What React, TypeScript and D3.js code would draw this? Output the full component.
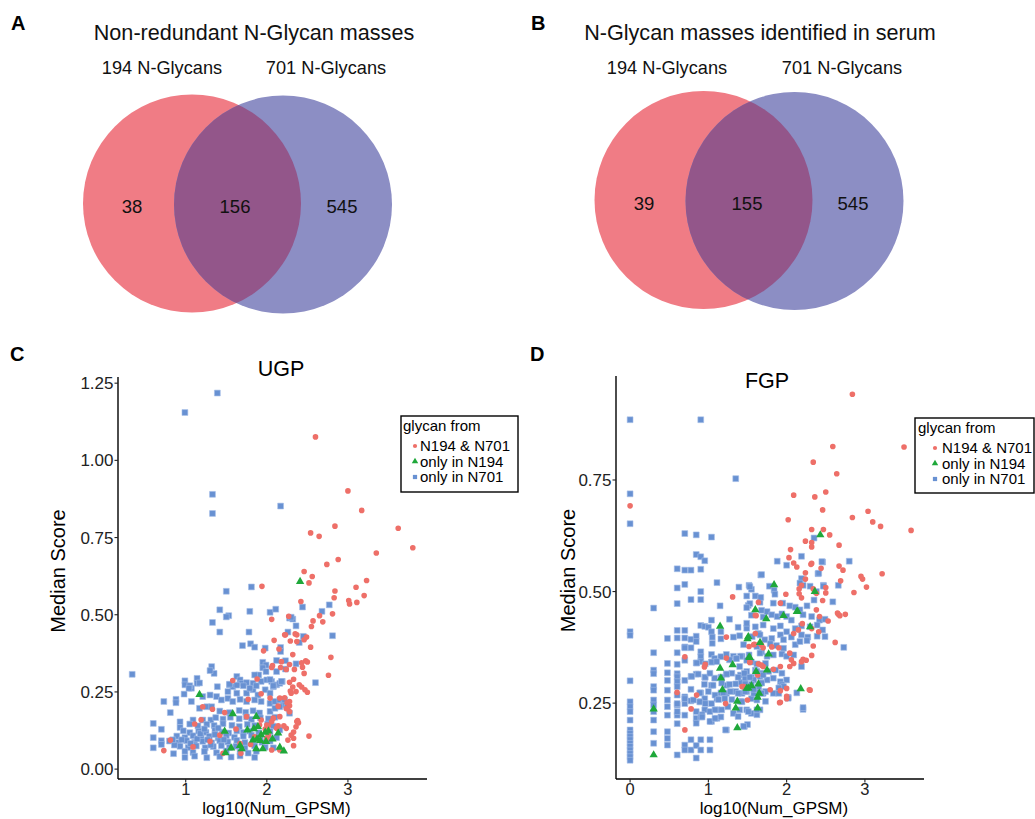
import React from 'react';
import * as d3 from 'd3';

type Pt = [number, number];

// Venn counts: [only left, both, only right]
const vennACounts = [38, 156, 545];
const vennBCounts = [39, 155, 545];
const vennSetLabels = ['194 N-Glycans', '701 N-Glycans'];
const legendLabels = ['N194 & N701', 'only in N194', 'only in N701'];
const ugpYTicks = [0, 0.25, 0.5, 0.75, 1.0, 1.25];
const ugpXTicks = [1, 2, 3];
const fgpYTicks = [0.25, 0.5, 0.75];
const fgpXTicks = [0, 1, 2, 3];

// UGP: glycans found in both N194 and N701
const ugpBoth: Pt[] = [
  [2.6, 1.076], [3.0, 0.901], [3.17, 0.838], [2.84, 0.787], [2.54, 0.765], [2.645, 0.754], [3.62, 0.78],
  [3.35, 0.7], [3.8, 0.717], [2.88, 0.679], [2.74, 0.663], [2.46, 0.64], [2.56, 0.624], [2.52, 0.603],
  [1.94, 0.592], [3.23, 0.611], [2.84, 0.577], [3.1, 0.589], [2.83, 0.555], [3.2, 0.562], [3.01, 0.546],
  [3.02, 0.535], [3.11, 0.54], [2.42, 0.543], [2.81, 0.503], [2.65, 0.497], [2.69, 0.477], [2.57, 0.48],
  [2.55, 0.462], [2.06, 0.485], [2.27, 0.495], [2.23, 0.435], [2.37, 0.435], [2.09, 0.417], [2.29, 0.415],
  [2.49, 0.428], [2.46, 0.419], [2.54, 0.395], [2.15, 0.389], [1.96, 0.383], [2.32, 0.371], [2.48, 0.351],
  [2.5, 0.347], [2.79, 0.362], [2.28, 0.339], [2.06, 0.329], [2.17, 0.329], [2.44, 0.33], [2.76, 0.304],
  [2.5, 0.249], [2.52, 0.107], [2.33, 0.076], [2.38, 0.157], [2.36, 0.137], [2.24, 0.323], [2.46, 0.31],
  [2.33, 0.291], [2.4, 0.273], [2.47, 0.257], [2.3, 0.246], [2.36, 0.251], [2.25, 0.215], [2.28, 0.205],
  [2.28, 0.186], [2.16, 0.17], [2.14, 0.14], [2.24, 0.132], [2.37, 0.154], [2.3, 0.11], [2.26, 0.094],
  [2.16, 0.062], [2.06, 0.062], [1.58, 0.287], [1.77, 0.226], [1.48, 0.183], [1.21, 0.202], [1.19, 0.16],
  [1.75, 0.17], [1.93, 0.159], [2.0, 0.143], [2.06, 0.154], [2.12, 0.132], [2.02, 0.11], [1.85, 0.105],
  [1.67, 0.083], [0.81, 0.094], [0.73, 0.06], [1.09, 0.072], [1.46, 0.051], [1.11, 0.146], [1.33, 0.194],
  [1.8, 0.08], [1.68, 0.051], [1.91, 0.143], [2.0, 0.1], [2.22, 0.435], [2.35, 0.438], [2.37, 0.413],
  [2.18, 0.348], [2.43, 0.344], [2.34, 0.323], [2.07, 0.335], [2.28, 0.281], [2.32, 0.266], [2.43, 0.266],
  [2.29, 0.253], [2.22, 0.231], [2.28, 0.219], [2.24, 0.196], [2.16, 0.23], [2.14, 0.204], [2.04, 0.23],
  [1.93, 0.244], [1.88, 0.292], [2.39, 0.15], [2.33, 0.12], [2.33, 0.1], [2.02, 0.141], [2.08, 0.165],
  [2.21, 0.14], [1.98, 0.13], [1.62, 0.13], [1.42, 0.11], [1.3, 0.09],
];

// UGP: glycans only in N194
const ugpOnly194: Pt[] = [
  [2.41, 0.609], [1.17, 0.243], [1.58, 0.181], [1.87, 0.172], [1.48, 0.124], [1.76, 0.128], [1.84, 0.132],
  [1.89, 0.139], [1.93, 0.113], [1.98, 0.121], [2.02, 0.125], [1.83, 0.096], [1.88, 0.099], [1.92, 0.094],
  [1.99, 0.091], [2.07, 0.099], [2.14, 0.118], [1.56, 0.07], [1.67, 0.078], [1.69, 0.067], [1.87, 0.067],
  [1.95, 0.067], [2.16, 0.072], [2.21, 0.06], [1.49, 0.054],
];

// UGP: glycans only in N701
const ugpOnly701: Pt[] = [
  [0.34, 0.307], [0.99, 1.155], [1.39, 1.218], [1.33, 0.89], [1.33, 0.828], [2.17, 0.852], [1.5, 0.576],
  [1.81, 0.59], [1.42, 0.516], [1.53, 0.497], [1.5, 0.493], [1.33, 0.475], [1.42, 0.444], [1.79, 0.511],
  [1.78, 0.444], [2.04, 0.508], [2.11, 0.518], [1.7, 0.4], [1.8, 0.406], [1.85, 0.395], [1.98, 0.392],
  [2.17, 0.394], [2.28, 0.489], [2.32, 0.486], [2.36, 0.464], [2.26, 0.444], [2.44, 0.525], [2.45, 0.43],
  [2.4, 0.41], [2.68, 0.511], [2.77, 0.532], [2.81, 0.432], [2.6, 0.28], [2.17, 0.381], [2.12, 0.352],
  [2.23, 0.351], [2.36, 0.341], [1.95, 0.346], [1.99, 0.337], [1.95, 0.328], [2.3, 0.492],
  [1.99, 0.316], [2.12, 0.316], [2.23, 0.324], [1.32, 0.332], [1.35, 0.31], [1.3, 0.319], [1.14, 0.294],
  [1.14, 0.278], [0.99, 0.286], [0.99, 0.273], [1.07, 0.262], [0.98, 0.243], [1.39, 0.267], [1.63, 0.3],
  [1.67, 0.289], [1.54, 0.273], [1.58, 0.267], [1.69, 0.278], [1.75, 0.28], [1.83, 0.278], [1.9, 0.305],
  [1.93, 0.284], [2.0, 0.289], [2.06, 0.284], [2.12, 0.273], [2.16, 0.278], [2.19, 0.284],
  [1.52, 0.251], [1.63, 0.246], [1.75, 0.246], [1.83, 0.257], [1.98, 0.257], [2.04, 0.246], [2.08, 0.267],
  [1.89, 0.24], [1.21, 0.235], [1.3, 0.24], [1.38, 0.235], [1.44, 0.224], [1.52, 0.229], [1.58, 0.219],
  [1.67, 0.226], [1.75, 0.219], [1.85, 0.224], [1.93, 0.219], [2.04, 0.213], [2.1, 0.219], [2.16, 0.224],
  [2.2, 0.208], [0.73, 0.219], [0.88, 0.226], [0.88, 0.215], [0.81, 0.183], [0.6, 0.148], [0.6, 0.102],
  [0.6, 0.069], [0.7, 0.129], [0.7, 0.092], [0.7, 0.08], [0.93, 0.153], [0.93, 0.135], [0.85, 0.05],
  [1.07, 0.219], [1.17, 0.197], [1.26, 0.202], [1.32, 0.202], [1.09, 0.159], [1.21, 0.159], [1.31, 0.159],
  [1.42, 0.188], [1.54, 0.183], [1.66, 0.19], [1.74, 0.184], [1.83, 0.189], [1.91, 0.182], [2.04, 0.187],
  [1.37, 0.167], [1.46, 0.162], [1.55, 0.168], [1.66, 0.163], [1.75, 0.169], [1.81, 0.161], [1.92, 0.166],
  [2.02, 0.163], [2.1, 0.168], [1.05, 0.146], [1.15, 0.14], [1.26, 0.145], [1.35, 0.141], [1.46, 0.147],
  [1.57, 0.142], [1.66, 0.138], [1.76, 0.145], [1.85, 0.141], [2.01, 0.146], [2.08, 0.139],
  [0.97, 0.124], [1.05, 0.118], [1.16, 0.123], [1.25, 0.119], [1.36, 0.125], [1.45, 0.12], [1.53, 0.117],
  [1.63, 0.124], [1.71, 0.119], [1.79, 0.123], [1.9, 0.118], [2.04, 0.122], [2.16, 0.127],
  [0.89, 0.107], [0.99, 0.102], [1.09, 0.108], [1.19, 0.103], [1.29, 0.106], [1.4, 0.101], [1.5, 0.108],
  [1.6, 0.103], [1.71, 0.107], [1.81, 0.11], [1.92, 0.104], [2.02, 0.108], [2.12, 0.102],
  [0.8, 0.091], [0.91, 0.086], [1.01, 0.092], [1.11, 0.087], [1.21, 0.09], [1.32, 0.085], [1.42, 0.092],
  [1.52, 0.088], [1.63, 0.093], [1.73, 0.086], [1.83, 0.09], [1.94, 0.087], [2.04, 0.091],
  [0.93, 0.074], [1.03, 0.07], [1.13, 0.075], [1.24, 0.069], [1.34, 0.073], [1.44, 0.076], [1.54, 0.07],
  [1.62, 0.074], [1.73, 0.068], [1.85, 0.075], [1.98, 0.071], [2.08, 0.069],
  [0.99, 0.058], [1.09, 0.054], [1.23, 0.057], [1.38, 0.053], [1.5, 0.059], [1.67, 0.055], [1.77, 0.052],
  [1.87, 0.058], [0.99, 0.038], [1.11, 0.042], [1.26, 0.037], [1.42, 0.041], [1.56, 0.039], [1.67, 0.043],
  [1.85, 0.038], [1.14, 0.098], [1.27, 0.095], [1.36, 0.112], [1.18, 0.115], [1.31, 0.078], [1.47, 0.095],
  [1.23, 0.13], [1.4, 0.133], [1.06, 0.083], [0.95, 0.095], [0.86, 0.078], [0.84, 0.095],
  [1.87, 0.27], [1.71, 0.27], [1.63, 0.272], [1.54, 0.275], [1.79, 0.262], [2.18, 0.284], [2.08, 0.27],
  [1.85, 0.305], [2.04, 0.29], [1.17, 0.279], [1.05, 0.27], [1.04, 0.262], [2.22, 0.224], [2.16, 0.202],
  [2.28, 0.181], [2.1, 0.197], [2.25, 0.2],
];

// FGP: glycans found in both N194 and N701
const fgpBoth: Pt[] = [
  [2.84, 0.942], [2.59, 0.825], [3.5, 0.824], [2.34, 0.79], [2.64, 0.764], [2.09, 0.716], [2.36, 0.712],
  [2.5, 0.723], [2.46, 0.683], [2.84, 0.666], [3.04, 0.68], [3.1, 0.656], [3.2, 0.646], [3.59, 0.637],
  [2.02, 0.661], [2.32, 0.639], [2.47, 0.639], [2.55, 0.627], [2.24, 0.613], [2.32, 0.61], [2.32, 0.6],
  [2.05, 0.594], [2.67, 0.604], [2.03, 0.576], [2.09, 0.564], [2.13, 0.555], [2.24, 0.542], [2.32, 0.563],
  [2.44, 0.552], [2.67, 0.557], [2.72, 0.548], [3.22, 0.54], [2.95, 0.534], [2.97, 0.528], [2.69, 0.524],
  [3.02, 0.51], [2.5, 0.509], [2.16, 0.506], [2.34, 0.506], [2.86, 0.498], [1.99, 0.494], [1.31, 0.488],
  [2.19, 0.486], [2.46, 0.48], [2.66, 0.449], [2.75, 0.449], [2.68, 0.446], [2.62, 0.386], [0, 0.692],
  [0.7, 0.354], [0.7, 0.19], [0.6, 0.274], [0.78, 0.237], [0.95, 0.331], [1.5, 0.257], [1.91, 0.251],
  [2.0, 0.26], [2.3, 0.279], [2.32, 0.357], [2.34, 0.378], [2.21, 0.348], [2.31, 0.561], [2.24, 0.528],
  [2.19, 0.514], [2.16, 0.495], [2.38, 0.496], [2.5, 0.497], [1.92, 0.474], [1.64, 0.476], [1.61, 0.446],
  [2.38, 0.459], [2.42, 0.444], [2.53, 0.434], [2.65, 0.452], [2.2, 0.428], [2.32, 0.417], [2.15, 0.414],
  [2.09, 0.406], [2.41, 0.41], [2.25, 0.346], [2.19, 0.343], [2.09, 0.339], [1.6, 0.406], [1.58, 0.381],
  [1.52, 0.377], [1.7, 0.374], [1.81, 0.376], [1.9, 0.374], [1.66, 0.384], [2.04, 0.362], [2.06, 0.347],
  [2.04, 0.332], [1.92, 0.332], [1.83, 0.326], [1.7, 0.332], [1.53, 0.341], [1.64, 0.338], [1.45, 0.287],
  [1.79, 0.28], [1.92, 0.278], [2.0, 0.283], [1.92, 0.252], [2.0, 0.265], [2.29, 0.28], [1.6, 0.447],
  [1.23, 0.398], [1.59, 0.382], [1.68, 0.38], [0.96, 0.337], [1.23, 0.351], [1.53, 0.342], [1.68, 0.335],
  [1.63, 0.313], [0.85, 0.268], [1.22, 0.249], [1.43, 0.287],
];

// FGP: glycans only in N194
const fgpOnly194: Pt[] = [
  [0.301, 0.238], [0.301, 0.135], [1.15, 0.423], [1.5, 0.395], [1.6, 0.46], [1.74, 0.44], [1.84, 0.516],
  [1.96, 0.447], [2.13, 0.456], [2.43, 0.628], [2.36, 0.501], [2.3, 0.422], [1.66, 0.387], [1.77, 0.361],
  [1.52, 0.354], [1.31, 0.337], [1.15, 0.329], [1.75, 0.325], [1.61, 0.322], [1.16, 0.307], [1.18, 0.281],
  [1.51, 0.285], [1.55, 0.29], [1.64, 0.294], [1.65, 0.273], [1.63, 0.264], [1.37, 0.255], [1.35, 0.24],
  [1.63, 0.24], [1.37, 0.196], [2.18, 0.283], [2.14, 0.457], [1.53, 0.353], [1.49, 0.284], [1.51, 0.4],
];

// FGP: glycans only in N701
const fgpOnly701: Pt[] = [
  [0, 0.885], [0, 0.719], [0, 0.652], [0, 0.41], [0, 0.402], [0, 0.3], [0, 0.253], [0, 0.242], [0, 0.231],
  [0, 0.212], [0, 0.19], [0, 0.182], [0, 0.175], [0, 0.168], [0, 0.16], [0, 0.153], [0, 0.145], [0, 0.137],
  [0, 0.13], [0, 0.122],
  [0.301, 0.463], [0.301, 0.363], [0.301, 0.324], [0.301, 0.316], [0.301, 0.287], [0.301, 0.279],
  [0.301, 0.257], [0.301, 0.246], [0.301, 0.231], [0.301, 0.212], [0.301, 0.186], [0.301, 0.16],
  [0.477, 0.395], [0.477, 0.339], [0.477, 0.318], [0.477, 0.301], [0.477, 0.279], [0.477, 0.257],
  [0.477, 0.242], [0.477, 0.223], [0.477, 0.186], [0.477, 0.171], [0.477, 0.156],
  [0.602, 0.551], [0.602, 0.508], [0.602, 0.473], [0.602, 0.396], [0.602, 0.363], [0.602, 0.337],
  [0.602, 0.316], [0.602, 0.309], [0.602, 0.298], [0.602, 0.287], [0.602, 0.268], [0.602, 0.246],
  [0.602, 0.223], [0.602, 0.204], [0.602, 0.134], [0.602, 0.413], [0.602, 0.249], [0.602, 0.231],
  [0.699, 0.63], [0.699, 0.548], [0.699, 0.516], [0.699, 0.413], [0.699, 0.396], [0.699, 0.376],
  [0.699, 0.346], [0.699, 0.301], [0.699, 0.264], [0.699, 0.249], [0.699, 0.223], [0.699, 0.156],
  [0.699, 0.145], [0.699, 0.374], [0.699, 0.26],
  [0.778, 0.548], [0.778, 0.482], [0.778, 0.393], [0.778, 0.374], [0.778, 0.31], [0.778, 0.281],
  [0.778, 0.255], [0.778, 0.168], [0.778, 0.145],
  [0.845, 0.627], [0.845, 0.583], [0.845, 0.4], [0.845, 0.388], [0.845, 0.315], [0.845, 0.231],
  [0.845, 0.216], [0.845, 0.205], [0.845, 0.155], [0.845, 0.127], [0.845, 0.34],
  [0.903, 0.885], [0.903, 0.578], [0.903, 0.55], [0.903, 0.5], [0.903, 0.482], [0.903, 0.424],
  [0.903, 0.365], [0.903, 0.354], [0.903, 0.343], [0.903, 0.273], [0.903, 0.253], [0.903, 0.219],
  [0.903, 0.168], [0.903, 0.145],
  [0.954, 0.569], [0.954, 0.422], [0.954, 0.308], [0.954, 0.26], [0.954, 0.235],
  [1.0, 0.42], [1.04, 0.622], [1.04, 0.436], [1.04, 0.41], [1.05, 0.398], [1.05, 0.384], [1.04, 0.359],
  [1.04, 0.342], [1.08, 0.35], [1.08, 0.306], [1.04, 0.29], [1.0, 0.276], [1.04, 0.249], [1.04, 0.209],
  [1.11, 0.52], [1.15, 0.468], [1.16, 0.41], [1.16, 0.394], [1.16, 0.354], [1.16, 0.308], [1.11, 0.26],
  [1.11, 0.235], [1.11, 0.216], [1.16, 0.273], [1.16, 0.219], [1.23, 0.359], [1.23, 0.315], [1.23, 0.29],
  [1.23, 0.272], [1.23, 0.19], [1.27, 0.438], [1.38, 0.42], [1.4, 0.401], [1.32, 0.398], [1.32, 0.355],
  [1.3, 0.317], [1.3, 0.258], [1.35, 0.35], [1.35, 0.293], [1.35, 0.276], [1.39, 0.51], [1.35, 0.753],
  [1.43, 0.355], [1.41, 0.313], [1.4, 0.235], [1.43, 0.272], [1.42, 0.297], [1.46, 0.198], [1.5, 0.202],
  [1.52, 0.514], [1.55, 0.505], [1.55, 0.308], [1.55, 0.26], [1.55, 0.227], [1.49, 0.49], [1.51, 0.469],
  [1.55, 0.447], [1.49, 0.418], [1.6, 0.49], [1.66, 0.476], [1.68, 0.458], [1.7, 0.443], [1.64, 0.406],
  [1.68, 0.365], [1.68, 0.296], [1.7, 0.272], [1.66, 0.235], [1.67, 0.537], [1.78, 0.512],
  [1.88, 0.568], [2.0, 0.559], [2.19, 0.579], [2.46, 0.566], [2.4, 0.54], [2.35, 0.62], [2.8, 0.568],
  [2.19, 0.529], [2.21, 0.514], [2.47, 0.514], [2.66, 0.514], [2.59, 0.477], [2.73, 0.375], [2.21, 0.236],
  [2.02, 0.263], [2.45, 0.567], [2.41, 0.541], [1.68, 0.538], [2.17, 0.519], [1.84, 0.503], [1.85, 0.494],
  [1.53, 0.511], [2.3, 0.512], [2.38, 0.5], [2.47, 0.512], [1.67, 0.487], [1.53, 0.473], [1.49, 0.464],
  [1.83, 0.474], [1.95, 0.474], [2.04, 0.468], [2.11, 0.465], [2.17, 0.459], [2.26, 0.468], [2.35, 0.481],
  [1.75, 0.455], [1.81, 0.448], [1.88, 0.444], [1.94, 0.45], [2.0, 0.444], [2.06, 0.436], [2.21, 0.448],
  [2.32, 0.444], [2.42, 0.436], [2.49, 0.438], [1.49, 0.429], [1.6, 0.421], [1.7, 0.425], [1.83, 0.417],
  [1.92, 0.423], [2.0, 0.41], [2.11, 0.417], [2.19, 0.423], [2.3, 0.421], [2.39, 0.425], [2.46, 0.414],
  [1.56, 0.399], [1.66, 0.403], [1.72, 0.392], [1.81, 0.395], [1.92, 0.403], [1.96, 0.392], [2.06, 0.398],
  [2.19, 0.403], [2.27, 0.398], [2.39, 0.4], [2.49, 0.399], [1.45, 0.381], [1.62, 0.377], [1.79, 0.383],
  [1.87, 0.379], [1.96, 0.373], [2.11, 0.381], [2.17, 0.388], [2.26, 0.39], [1.41, 0.355], [1.52, 0.358],
  [1.66, 0.362], [1.75, 0.355], [1.83, 0.358], [1.94, 0.36], [2.0, 0.355], [2.09, 0.358], [2.19, 0.332],
  [1.4, 0.332], [1.49, 0.321], [1.6, 0.324], [1.68, 0.317], [1.77, 0.321], [1.86, 0.324], [1.94, 0.317],
  [1.73, 0.339], [1.47, 0.306], [1.58, 0.302], [1.66, 0.31], [1.75, 0.302], [1.83, 0.306], [1.92, 0.298],
  [2.0, 0.302], [1.94, 0.291], [1.68, 0.295], [1.49, 0.276], [1.58, 0.272], [1.64, 0.28], [1.73, 0.276],
  [1.83, 0.272], [1.96, 0.287], [1.9, 0.284], [1.62, 0.257], [1.73, 0.254], [1.9, 0.272], [2.13, 0.273],
  [2.02, 0.261], [1.49, 0.235], [1.62, 0.224], [2.21, 0.24], [1.41, 0.254], [0.851, 0.34], [0.96, 0.338],
  [1.043, 0.342], [1.107, 0.343], [1.27, 0.347], [1.36, 0.35], [1.49, 0.346], [1.55, 0.342], [1.62, 0.338],
  [0.787, 0.31], [0.87, 0.315], [0.96, 0.308], [1.02, 0.317], [1.17, 0.308], [1.234, 0.315], [1.38, 0.308],
  [1.46, 0.317], [1.53, 0.308], [1.62, 0.321], [1.7, 0.313], [0.95, 0.292], [1.06, 0.29], [1.17, 0.295],
  [1.27, 0.292], [1.47, 0.293], [1.55, 0.292], [1.64, 0.287], [0.89, 0.273], [1.085, 0.268], [1.19, 0.273],
  [1.28, 0.276], [1.38, 0.272], [1.47, 0.276], [1.58, 0.281], [1.68, 0.272], [0.81, 0.257], [0.89, 0.253],
  [0.96, 0.249], [1.13, 0.258], [1.21, 0.26], [1.43, 0.253], [1.51, 0.231], [1.62, 0.235], [0.92, 0.224],
  [1.02, 0.231], [1.085, 0.235], [1.17, 0.235], [1.25, 0.242], [1.32, 0.227], [1.38, 0.22], [0.92, 0.219],
  [1.02, 0.209], [1.085, 0.216], [1.22, 0.19], [1.45, 0.198], [1.02, 0.168], [1.02, 0.145],
];

const FONT = '"Liberation Sans", Arial, Helvetica, sans-serif';
const RED = '#EE6F68';
const GREEN = '#1FA83A';
const BLUE = '#6891D2';
const TEXT = '#222222';

const circleSym = d3.symbol().type(d3.symbolCircle).size(25)();
const triSym = d3.symbol().type(d3.symbolTriangle).size(30)();
const squareSym = d3.symbol().type(d3.symbolSquare).size(34)();
const legendCircle = d3.symbol().type(d3.symbolCircle).size(14)();
const legendTri = d3.symbol().type(d3.symbolTriangle).size(18)();
const legendSquare = d3.symbol().type(d3.symbolSquare).size(18)();

interface VennProps {
  id: string;
  counts: number[];
  title: string;
  cx: number;
  cy: number;
  r: number;
  gap: number;
  titleX: number;
  labelXs: number[];
  countXs: number[];
  countY: number;
}

const Venn: React.FC<VennProps> = ({ id, counts, title, cx, cy, r, gap, titleX, labelXs, countXs, countY }) => {
  const lx = cx - gap / 2;
  const rx = cx + gap / 2;
  return (
    <g fontFamily={FONT}>
      <defs>
        <clipPath id={`clip-${id}`}>
          <circle cx={lx} cy={cy} r={r} />
        </clipPath>
      </defs>
      <circle cx={lx} cy={cy} r={r} fill="#F07C85" />
      <circle cx={rx} cy={cy + 1} r={r} fill="#8C8EC4" />
      <circle cx={rx} cy={cy + 1} r={r} fill="#93568A" clipPath={`url(#clip-${id})`} />
      <text x={titleX} y={40} textAnchor="middle" fontSize={21.6} fill="#111">
        {title}
      </text>
      {vennSetLabels.map((t, i) => (
        <text key={t} x={labelXs[i]} y={74} textAnchor="middle" fontSize={18.2} fill="#111">
          {t}
        </text>
      ))}
      {counts.map((c, i) => (
        <text key={i} x={countXs[i]} y={countY} textAnchor="middle" fontSize={18.5} fill="#111">
          {c}
        </text>
      ))}
    </g>
  );
};

interface ScatterProps {
  title: string;
  titleX: number;
  titleY: number;
  left: number;
  right: number;
  top: number;
  bottom: number;
  xDomain: [number, number];
  yDomain: [number, number];
  xTicks: number[];
  yTicks: number[];
  both: Pt[];
  only194: Pt[];
  only701: Pt[];
  yLabelX: number;
  legend: { x: number; y: number; w: number; h: number; titleX: number; symX: number; textX: number };
}

const Scatter: React.FC<ScatterProps> = (p) => {
  const x = d3.scaleLinear().domain(p.xDomain).range([p.left, p.right]);
  const y = d3.scaleLinear().domain(p.yDomain).range([p.bottom, p.top]);
  const fmt = d3.format('.2f');
  const midY = (p.top + p.bottom) / 2;
  const midX = (p.left + p.right) / 2;
  const lg = p.legend;
  const rowY = [lg.y + 30, lg.y + 45.5, lg.y + 61];
  const syms = [
    { d: legendCircle, c: RED },
    { d: legendTri, c: GREEN },
    { d: legendSquare, c: BLUE },
  ];
  return (
    <g fontFamily={FONT}>
      <g>
        {p.only701.map((d, i) => (
          <path key={`b${i}`} d={squareSym} transform={`translate(${x(d[0])},${y(d[1])})`} fill={BLUE} stroke="#A4BDE8" strokeWidth={0.6} />
        ))}
        {p.both.map((d, i) => (
          <path key={`r${i}`} d={circleSym} transform={`translate(${x(d[0])},${y(d[1])})`} fill={RED} />
        ))}
        {p.only194.map((d, i) => (
          <path key={`g${i}`} d={triSym} transform={`translate(${x(d[0])},${y(d[1]) + 0.5})`} fill={GREEN} />
        ))}
      </g>
      <line x1={p.left} x2={p.left} y1={p.top} y2={p.bottom} stroke="#000" strokeWidth={1.4} />
      <line x1={p.left} x2={p.right} y1={p.bottom} y2={p.bottom} stroke="#000" strokeWidth={1.4} />
      {p.yTicks.map((t) => (
        <g key={`yt${t}`}>
          <line x1={p.left - 3.5} x2={p.left} y1={y(t)} y2={y(t)} stroke="#222" strokeWidth={1.1} />
          <text x={p.left - 4.5} y={y(t) + 6} textAnchor="end" fontSize={17} fill={TEXT}>
            {fmt(t)}
          </text>
        </g>
      ))}
      {p.xTicks.map((t) => (
        <g key={`xt${t}`}>
          <line x1={x(t)} x2={x(t)} y1={p.bottom} y2={p.bottom + 3.5} stroke="#222" strokeWidth={1.1} />
          <text x={x(t)} y={794.5} textAnchor="middle" fontSize={16.5} fill={TEXT}>
            {t}
          </text>
        </g>
      ))}
      <text x={p.titleX} y={p.titleY} textAnchor="middle" fontSize={21.5} fill="#000">
        {p.title}
      </text>
      <text x={midX + 4} y={813.5} textAnchor="middle" fontSize={17} fill="#000">
        log10(Num_GPSM)
      </text>
      <text
        transform={`translate(${p.yLabelX},${midY - 7}) rotate(-90)`}
        textAnchor="middle"
        fontSize={20}
        fill="#000"
      >
        Median Score
      </text>
      <rect x={lg.x} y={lg.y} width={lg.w} height={lg.h} fill="#fff" stroke="#000" strokeWidth={1.4} />
      <text x={lg.titleX} y={lg.y + 15} fontSize={15} fill="#000">
        glycan from
      </text>
      {legendLabels.map((l, i) => (
        <g key={l}>
          <path d={syms[i].d} transform={`translate(${lg.symX},${rowY[i]})`} fill={syms[i].c} />
          <text x={lg.textX} y={rowY[i] + 5.3} fontSize={15} fill="#000">
            {l}
          </text>
        </g>
      ))}
    </g>
  );
};

const App: React.FC = () => {
  return (
    <svg
      width={1035}
      height={819}
      viewBox="0 0 1035 819"
      style={{ position: 'absolute', left: 0, top: 0, background: '#fff' }}
    >
      <rect width={1035} height={819} fill="#fff" />
      <g fontFamily={FONT} fontWeight="bold" fontSize={20} fill="#000">
        <text x={11} y={30}>A</text>
        <text x={531} y={30}>B</text>
        <text x={10} y={361}>C</text>
        <text x={530} y={361}>D</text>
      </g>
      <Venn
        id="a"
        counts={vennACounts}
        title="Non-redundant N-Glycan masses"
        cx={237.5}
        cy={203.5}
        r={109}
        gap={91}
        titleX={254}
        labelXs={[162, 326]}
        countXs={[132, 235, 342]}
        countY={213}
      />
      <Venn
        id="b"
        counts={vennBCounts}
        title="N-Glycan masses identified in serum"
        cx={749}
        cy={200}
        r={109}
        gap={91}
        titleX={760}
        labelXs={[667, 842]}
        countXs={[644, 747, 853]}
        countY={210}
      />
      <Scatter
        title="UGP"
        titleX={281}
        titleY={376}
        left={118}
        right={427}
        top={377}
        bottom={779}
        xDomain={[0.165, 3.975]}
        yDomain={[-0.032, 1.27]}
        xTicks={ugpXTicks}
        yTicks={ugpYTicks}
        both={ugpBoth}
        only194={ugpOnly194}
        only701={ugpOnly701}
        yLabelX={65}
        legend={{ x: 401, y: 416, w: 117, h: 76, titleX: 403, symX: 415, textX: 420 }}
      />
      <Scatter
        title="FGP"
        titleX={767}
        titleY={388}
        left={616}
        right={924}
        top={376}
        bottom={779}
        xDomain={[-0.18, 3.755]}
        yDomain={[0.08, 0.983]}
        xTicks={fgpXTicks}
        yTicks={fgpYTicks}
        both={fgpBoth}
        only194={fgpOnly194}
        only701={fgpOnly701}
        yLabelX={575}
        legend={{ x: 915, y: 418, w: 119, h: 75, titleX: 918, symX: 935, textX: 942 }}
      />
    </svg>
  );
};

export default App;
